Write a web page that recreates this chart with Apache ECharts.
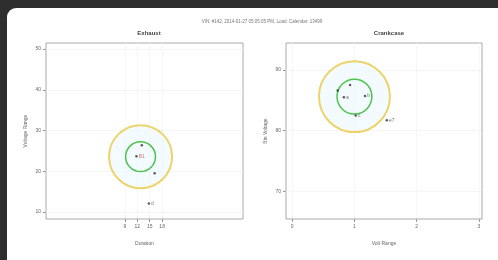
<!DOCTYPE html>
<html>
<head>
<meta charset="utf-8">
<script src="https://cdn.jsdelivr.net/npm/echarts@6/dist/echarts.min.js"></script>
<style>
	html, body { margin: 0; padding: 0; width: 498px; height: 260px; overflow: hidden; background: #2e2e2e; }
	#frame { position: absolute; left: 7px; top: 8px; width: 520px; height: 280px; background: #fff; border-top-left-radius: 9px; }
	#chart { position: absolute; left: 0; top: 0; width: 498px; height: 260px; }
</style>
</head>
<body>
<div id="frame"></div>
<div id="chart"></div>
<script>
// exhaust panel
var exhaustTicksX = [9, 12, 15, 18];
var exhaustTicksY = [10, 20, 30, 40, 50];
var exhaustCircle = [12.8, 23.6];
var exhaustOuterR = 7.6;
var exhaustInnerR = 3.6;
var exhaustPoints = [[13.1, 26.4], [11.8, 23.7], [16.2, 19.5], [14.8, 12.1]];
var exhaustLabels = ['', 'B1', '', 'd'];

// crankcase panel
var crankTicksX = [0, 1, 2, 3];
var crankTicksY = [70, 80, 90];
var crankCircle = [1.0, 85.6];
var crankOuterR = 0.57;
var crankInnerR = 0.28;
var crankPoints = [[0.73, 86.6], [0.93, 87.5], [0.83, 85.5], [1.17, 85.7], [1.02, 82.5], [1.52, 81.7]];
var crankLabels = ['', '', 'a', 'b', 'c', 'e7'];

var font = 'Liberation Sans';

function ring(axisIdx, center, r, color, width, fill) {
	return {
		type: 'custom',
		xAxisIndex: axisIdx,
		yAxisIndex: axisIdx,
		silent: true,
		data: [[center[0], center[1], r]],
		renderItem: function(params, api) {
			var c = api.coord([api.value(0), api.value(1)]);
			var rr = api.size([api.value(2), 0])[0];
			return {
				type: 'circle',
				shape: { cx: c[0], cy: c[1], r: rr },
				style: { fill: fill, stroke: color, lineWidth: width }
			};
		}
	};
}

function pts(axisIdx, data, labels) {
	return {
		type: 'scatter',
		xAxisIndex: axisIdx,
		yAxisIndex: axisIdx,
		symbolSize: 2.5,
		itemStyle: { color: '#333' },
		data: data.map(function(d, i) {
			return {
				value: d,
				label: {
					show: labels[i] !== '',
					formatter: labels[i],
					position: 'right',
					distance: 1,
					fontSize: 5,
					fontFamily: font,
					color: i == 1 && axisIdx == 0 ? '#c55' : '#555'
				}
			};
		})
	};
}

function axis(idx, min, max, ticks, name, split, gap) {
	return {
		gridIndex: idx, type: 'value', min: min, max: max, splitNumber: split,
		name: name, nameLocation: 'middle', nameGap: gap,
		nameTextStyle: { fontSize: 5, color: '#666', fontFamily: font },
		axisLine: { show: false, onZero: false },
		axisTick: { show: true, length: 3, customValues: ticks, lineStyle: { color: '#999' } },
		axisLabel: { customValues: ticks, fontSize: 5, color: '#666', margin: 5, fontFamily: font },
		splitLine: { show: true, lineStyle: { color: '#eeeeee', type: 'dotted' } }
	};
}

var myChart = echarts.init(document.getElementById('chart'));
option = {
	backgroundColor: 'transparent',
	animation: false,
	title: [ {
		text: 'VIN: #142, 2014-01-27 05:05:05 PM, Load: Calendar: 13499',
		left: 257, top: 14, textAlign: 'center',
		textStyle: { fontSize: 4.5, color: '#777', fontWeight: 'normal', fontFamily: font }
	}, {
		text: 'Exhaust',
		left: 144, top: 25, textAlign: 'center',
		textStyle: { fontSize: 6, color: '#444', fontWeight: 'bold', fontFamily: font }
	}, {
		text: 'Crankcase',
		left: 384, top: 25, textAlign: 'center',
		textStyle: { fontSize: 6, color: '#444', fontWeight: 'bold', fontFamily: font }
	} ],
	grid: [ {
		left: 46, top: 43, width: 197, height: 176,
		show: true, borderColor: '#aaa', borderWidth: 1, backgroundColor: '#fff'
	}, {
		left: 286, top: 43, width: 196, height: 176,
		show: true, borderColor: '#aaa', borderWidth: 1, backgroundColor: '#fff'
	} ],
	xAxis: [
		axis(0, -10, 37.5, exhaustTicksX, 'Duration', 8, 22),
		axis(1, -0.1, 3.05, crankTicksX, 'Volt Range', 6, 22)
	],
	yAxis: [
		axis(0, 8.3, 51.5, exhaustTicksY, 'Voltage Range', 8, 18),
		axis(1, 65.5, 94.4, crankTicksY, 'Bin Voltage', 6, 18)
	],
	series: [
		ring(0, exhaustCircle, exhaustOuterR, '#ecd36a', 2, 'rgba(235,249,255,0.6)'),
		ring(0, exhaustCircle, exhaustInnerR, '#4cc34c', 1.5, 'none'),
		pts(0, exhaustPoints, exhaustLabels),
		ring(1, crankCircle, crankOuterR, '#ecd36a', 2, 'rgba(235,249,255,0.6)'),
		ring(1, crankCircle, crankInnerR, '#4cc34c', 1.5, 'none'),
		pts(1, crankPoints, crankLabels)
	]
};
myChart.setOption(option);
</script>
</body>
</html>
